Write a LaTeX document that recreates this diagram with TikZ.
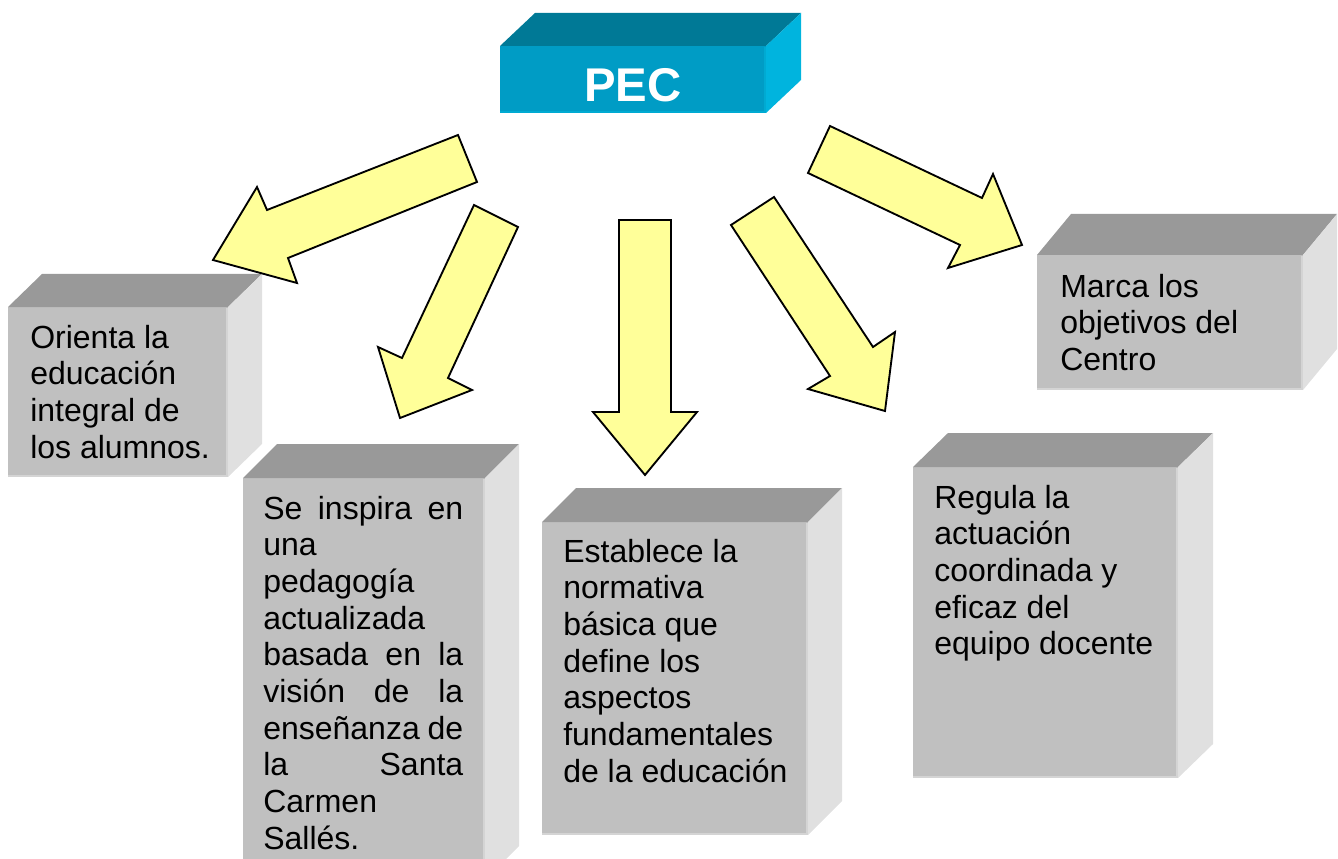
\documentclass[tikz,border=0pt]{standalone}
\usepackage{fontspec}
\setmainfont{Liberation Sans}
\definecolor{pecfront}{RGB}{0,156,197}
\definecolor{pectop}{RGB}{0,121,150}
\definecolor{pecside}{RGB}{0,180,222}
\definecolor{pecrim}{RGB}{0,170,210}
\definecolor{gfront}{RGB}{192,192,192}
\definecolor{gtop}{RGB}{153,153,153}
\definecolor{gside}{RGB}{224,224,224}
\definecolor{grim}{RGB}{212,212,212}
\definecolor{arrowfill}{RGB}{255,255,153}
% #1 name, #2 x1, #3 y1, #4 x2, #5 y2, #6 colour prefix, #7 dx, #8 dy
\newcommand\mycube[8]{%
  \fill[#6front] (#2,#3) rectangle (#4,#5);
  \fill[#6top] (#2,#3) -- (#2+#7,#3-#8) -- (#4+#7,#3-#8) -- (#4,#3) -- cycle;
  \fill[#6side] (#4,#3) -- (#4+#7,#3-#8) -- (#4+#7,#5-#8) -- (#4,#5) -- cycle;
  \draw[#6rim, line width=1.5pt] (#4-1,#3+1) -- (#4-1,#5-1);
  \draw[#6rim, line width=1pt] (#2,#5-1) -- (#4,#5-1);
  \coordinate (#1) at (#2,#3);
}
\tikzset{
  boxtext/.style={anchor=base west, inner sep=0pt, font=\fontsize{24}{27.5}\selectfont, text=black},
  pectext/.style={anchor=base, inner sep=0pt, font=\fontsize{35.5}{40}\selectfont\bfseries, text=white},
  blockarrow/.style={fill=arrowfill, draw=black, line width=1.4pt, line join=miter}
}
\begin{document}
\begin{tikzpicture}[x=0.75pt,y=-0.75pt]
\useasboundingbox (0,0) rectangle (1338,859);
\clip (0,0) rectangle (1338,859);

% PEC box
\mycube{pec}{500}{46}{766}{113}{pec}{35}{33}
\node[pectext] (pect) at (633,102) {PEC};

% gray boxes
\mycube{b1}{8}{307}{228}{477}{g}{34}{33}
\mycube{b2}{243}{478}{485}{880}{g}{34}{34}
\mycube{b3}{542}{522}{808}{835}{g}{34}{34}
\mycube{b4}{913}{467}{1178}{778}{g}{35}{34}
\mycube{b5}{1037}{255}{1303}{390}{g}{34}{41}

\node[boxtext] (t1) at (30,348) {\vtop{\hbox{Orienta la}\hbox{educación}\hbox{integral de}\hbox{los alumnos.}}};
\node[boxtext] (t2) at (263,519) {\vtop{%
  \hbox to 150pt{Se\hfill inspira\hfill en}%
  \hbox{una}\hbox{pedagogía}\hbox{actualizada}%
  \hbox to 150pt{basada\hfill en\hfill la}%
  \hbox to 150pt{visión\hfill de\hfill la}%
  \hbox to 150pt{enseñanza\hfill de}%
  \hbox to 150pt{la\hfill Santa}%
  \hbox{Carmen}\hbox{Sallés.}}};
\node[boxtext] (t3) at (563,562) {\vtop{\hbox{Establece la}\hbox{normativa}\hbox{básica que}\hbox{define los}\hbox{aspectos}\hbox{fundamentales}\hbox{de la educación}}};
\node[boxtext] (t4) at (934,508) {\vtop{\hbox{Regula la}\hbox{actuación}\hbox{coordinada y}\hbox{eficaz del}\hbox{equipo docente}}};
\node[boxtext] (t5) at (1060,297) {\vtop{\hbox{Marca los}\hbox{objetivos del}\hbox{Centro}}};

% block arrows
\draw[blockarrow] (458,135) -- (267,210) -- (257,187) -- (213,260) -- (297,283) -- (288,258) -- (477,182) -- cycle;
\draw[blockarrow] (474,205) -- (402,358) -- (378,347) -- (400,418) -- (472,390) -- (448,378) -- (518,227) -- cycle;
\draw[blockarrow] (619,220) -- (671,220) -- (671,412) -- (697,412) -- (645,475) -- (593,412) -- (619,412) -- cycle;
\draw[blockarrow] (731,225) -- (830,376) -- (808,389) -- (885,411) -- (895,332) -- (873,347) -- (774,197) -- cycle;
\draw[blockarrow] (830,126) -- (982,198) -- (993,174) -- (1022,245) -- (948,268) -- (960,245) -- (808,173) -- cycle;
\end{tikzpicture}
\end{document}
